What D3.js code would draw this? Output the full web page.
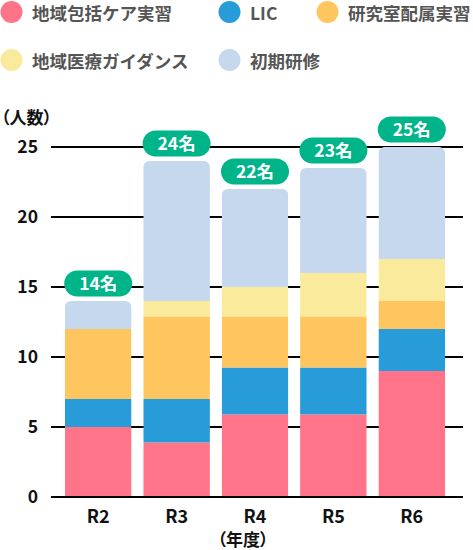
<!DOCTYPE html>
<html>
<head>
<meta charset="utf-8">
<script src="https://cdn.jsdelivr.net/npm/d3@7"></script>
<style>
  body { margin: 0; background: #fff; }
  text { font-family: "Noto Sans CJK JP", "Noto Sans", sans-serif; font-weight: 700; }
  .palt { font-feature-settings: "palt" 1; }
</style>
</head>
<body>
<div id="chart"></div>
<script>
// データ
const years = ["R2", "R3", "R4", "R5", "R6"];
const seriesNames = ["地域包括ケア実習", "LIC", "研究室配属実習", "地域医療ガイダンス", "初期研修"];
const seriesColors = ["#ff7489", "#279cd9", "#ffc65f", "#faeb9c", "#c5d8ee"];
const careValues = [5, 3.9, 5.9, 5.9, 9];
const licValues = [2, 3.1, 3.35, 3.35, 3];
const labValues = [5, 5.9, 3.65, 3.65, 2];
const guidanceValues = [0, 1.1, 2.1, 3.1, 3];
const residencyValues = [2, 10, 7, 7.5, 8];
const totalLabels = ["14名", "24名", "22名", "23名", "25名"];
const yTicks = [0, 5, 10, 15, 20, 25];

const width = 473, height = 550;
const svg = d3.select("#chart").append("svg")
  .attr("width", width)
  .attr("height", height);

// 表形式に組み立て
const table = years.map((y, i) => ({
  year: y,
  [seriesNames[0]]: careValues[i],
  [seriesNames[1]]: licValues[i],
  [seriesNames[2]]: labValues[i],
  [seriesNames[3]]: guidanceValues[i],
  [seriesNames[4]]: residencyValues[i]
}));
const stack = d3.stack().keys(seriesNames)(table);
const color = d3.scaleOrdinal().domain(seriesNames).range(seriesColors);

const x = d3.scaleBand().domain(years).range([50, 460]).paddingInner(0.15).paddingOuter(0.19);
const y = d3.scaleLinear().domain([0, 25]).range([497, 147]);

// 凡例
const legendPos = [[0, 0], [218, 0], [316, 0], [0, 48], [218, 48]];
const legend = svg.append("g").attr("transform", "translate(0,12)");
seriesNames.forEach((name, i) => {
  const g = legend.append("g").attr("transform", `translate(${legendPos[i][0]},${legendPos[i][1]})`);
  g.append("circle").attr("cx", 11.5).attr("cy", 0).attr("r", 11).attr("fill", color(name));
  g.append("text")
    .attr("x", 32).attr("y", 1.5).attr("dy", "0.36em")
    .attr("font-size", "17.5px").attr("fill", "#555")
    .text(name);
});

// 目盛線
svg.append("g").selectAll("line")
  .data(yTicks)
  .join("line")
  .attr("x1", 51).attr("x2", 463)
  .attr("y1", d => y(d)).attr("y2", d => y(d))
  .attr("stroke", "#000").attr("stroke-width", 2);

svg.append("g").selectAll("text")
  .data(yTicks)
  .join("text")
  .attr("x", 38).attr("y", d => y(d)).attr("dy", "0.36em")
  .attr("text-anchor", "end").attr("font-size", "17.5px").attr("fill", "#111")
  .text(d => d);

svg.append("text")
  .attr("class", "palt")
  .attr("x", 1).attr("y", 118).attr("dy", "0.36em")
  .attr("font-size", "17px").attr("fill", "#111")
  .text("（人数）");

// 棒（上端のみ角丸）
const r = 6;
const defs = svg.append("defs");
years.forEach((yr, i) => {
  const top = y(stack[stack.length - 1][i][1]);
  defs.append("clipPath").attr("id", "clip" + i)
    .append("rect")
    .attr("x", x(yr)).attr("y", top)
    .attr("width", x.bandwidth()).attr("height", y(0) - top + r + 2)
    .attr("rx", r);
});

svg.append("g").selectAll("g")
  .data(stack)
  .join("g")
  .attr("fill", d => color(d.key))
  .selectAll("rect")
  .data(d => d)
  .join("rect")
  .attr("clip-path", (d, i) => `url(#clip${i})`)
  .attr("x", d => x(d.data.year))
  .attr("y", d => y(d[1]))
  .attr("width", x.bandwidth())
  .attr("height", d => y(d[0]) - y(d[1]));

// 0の線を棒の上に
svg.append("line")
  .attr("x1", 51).attr("x2", 463)
  .attr("y1", y(0)).attr("y2", y(0))
  .attr("stroke", "#000").attr("stroke-width", 2);

// 合計ラベル
const pills = svg.append("g").selectAll("g")
  .data(years)
  .join("g")
  .attr("transform", (d, i) => {
    const top = y(stack[stack.length - 1][i][1]);
    return `translate(${x(d) + x.bandwidth() / 2},${top - 17.5})`;
  });
pills.append("rect")
  .attr("x", -34).attr("y", -13)
  .attr("width", 68).attr("height", 26)
  .attr("rx", 13)
  .attr("fill", "#00b48a");
pills.append("text")
  .attr("text-anchor", "middle").attr("dy", "0.36em")
  .attr("font-size", "17.5px").attr("fill", "#fff")
  .text((d, i) => totalLabels[i]);

// x軸ラベル
svg.append("g").selectAll("text")
  .data(years)
  .join("text")
  .attr("x", d => x(d) + x.bandwidth() / 2)
  .attr("y", 516.5).attr("dy", "0.36em")
  .attr("text-anchor", "middle").attr("font-size", "18px").attr("fill", "#111")
  .text(d => d);

svg.append("text")
  .attr("class", "palt")
  .attr("x", 243).attr("y", 539.5).attr("dy", "0.36em")
  .attr("text-anchor", "middle").attr("font-size", "17px").attr("fill", "#111")
  .text("（年度）");
</script>
</body>
</html>
